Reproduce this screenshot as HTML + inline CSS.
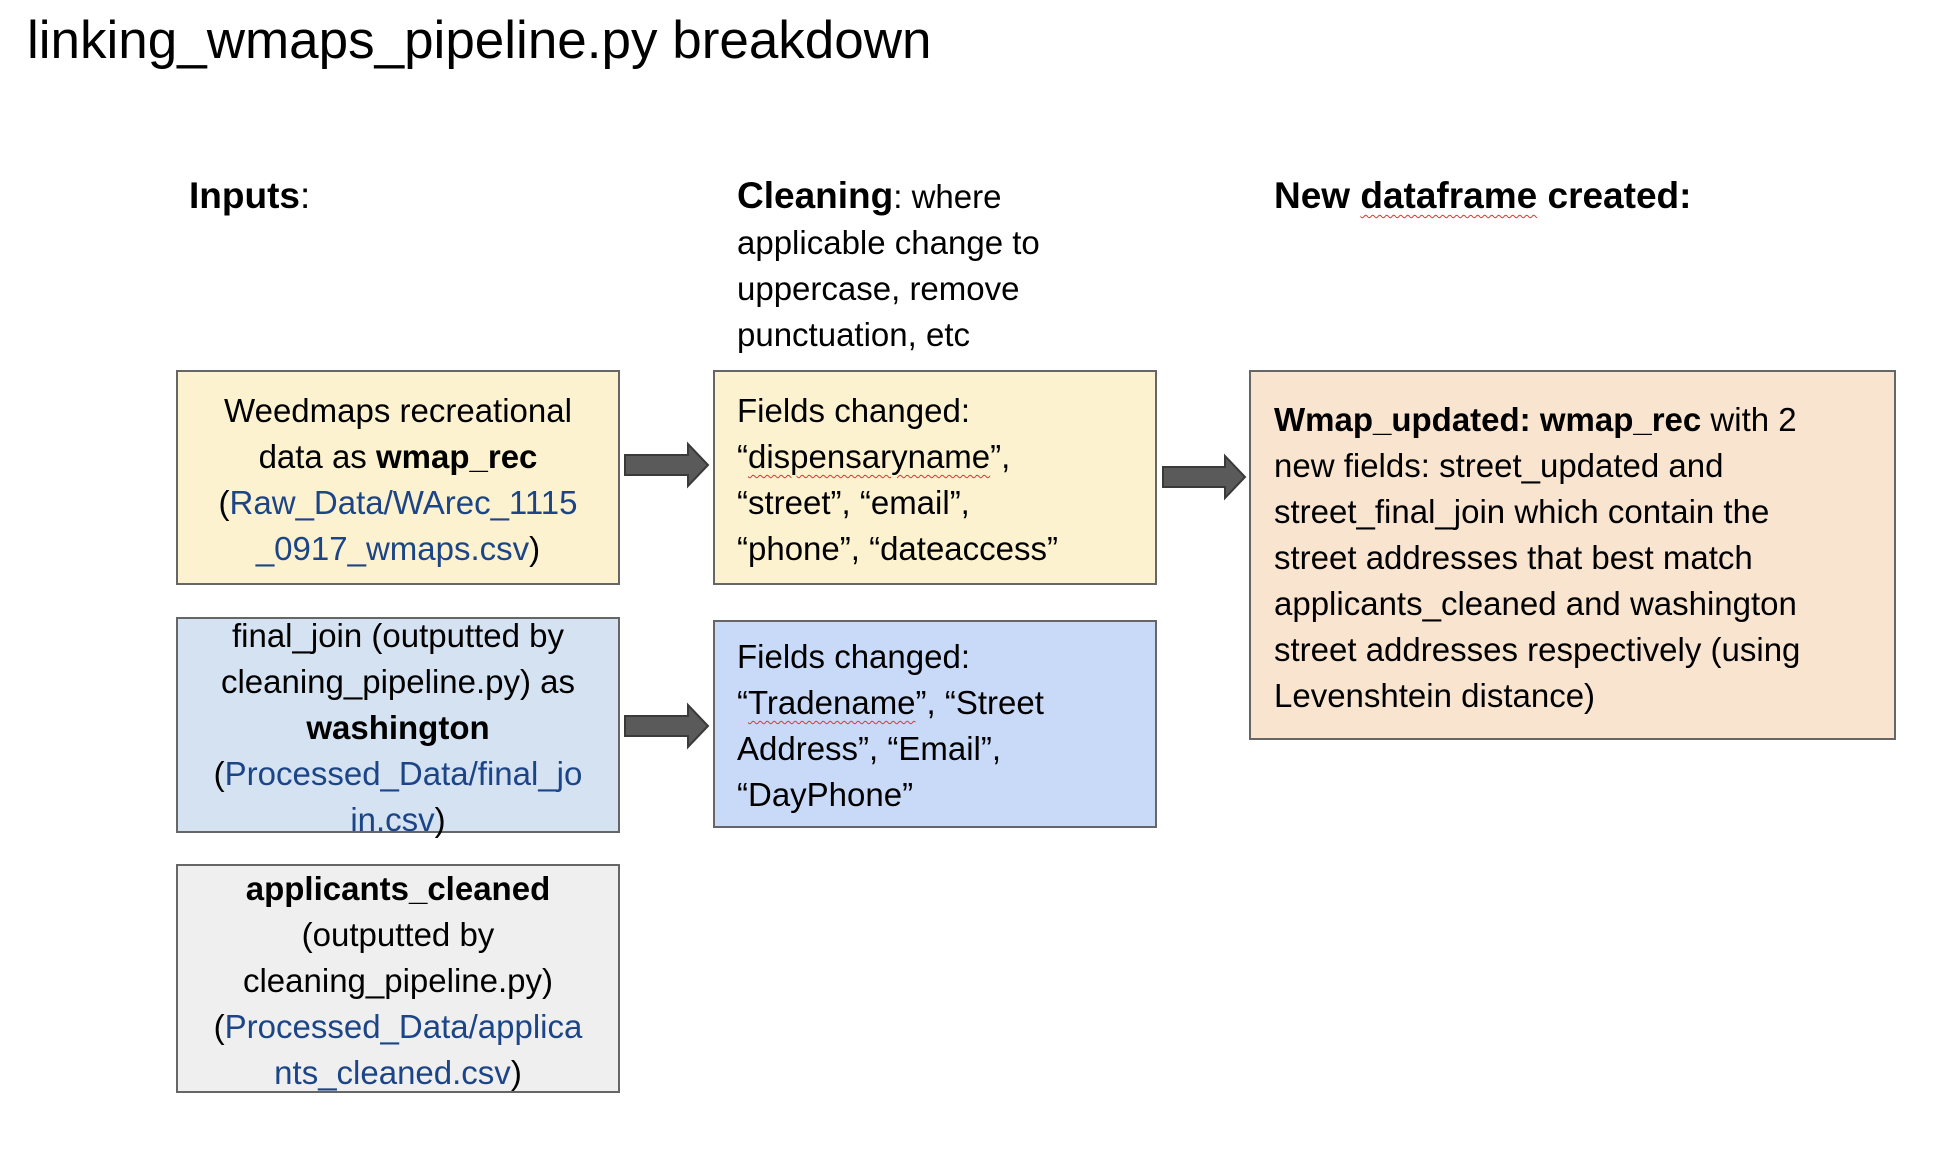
<!DOCTYPE html>
<html><head><meta charset="utf-8"><style>
body{margin:0;width:1936px;height:1162px;background:#fff;position:relative;overflow:hidden;font-family:"Liberation Sans",Arial,sans-serif;color:#000}
.t{position:absolute;font-size:33px;line-height:46px;white-space:nowrap}
.box{position:absolute;border:2px solid #666;box-sizing:border-box}
.c{text-align:center}
.l{color:#1c4587}
.sq{text-decoration:underline wavy #d33;text-decoration-thickness:1px;text-underline-offset:6px}
b{font-weight:bold}
</style></head><body>
<div style="position:absolute;left:27px;top:11px;font-size:53px;line-height:60px;white-space:nowrap">linking_wmaps_pipeline.py breakdown</div>

<div class="t" style="left:189px;top:173px;font-size:37px"><b>Inputs</b>:</div>
<div class="t" style="left:737px;top:173px"><b style="font-size:37px">Cleaning</b>: where<br>applicable change to<br>uppercase, remove<br>punctuation, etc</div>
<div class="t" style="left:1274px;top:173px;font-size:37px"><b>New <span class="sq">dataframe</span> created:</b></div>

<div class="box" style="left:176px;top:370px;width:444px;height:215px;background:#fdf2d0"></div>
<div class="t c" style="left:176px;width:444px;top:388px">Weedmaps recreational<br>data as <b>wmap_rec</b><br>(<span class="l">Raw_Data/WArec_1115</span><br><span class="l">_0917_wmaps.csv</span>)</div>

<div class="box" style="left:176px;top:617px;width:444px;height:216px;background:#d5e2f1"></div>
<div class="t c" style="left:176px;width:444px;top:613px">final_join (outputted by<br>cleaning_pipeline.py) as<br><b>washington</b><br>(<span class="l">Processed_Data/final_jo</span><br><span class="l">in.csv</span>)</div>

<div class="box" style="left:176px;top:864px;width:444px;height:229px;background:#efefef"></div>
<div class="t c" style="left:176px;width:444px;top:866px"><b>applicants_cleaned</b><br>(outputted by<br>cleaning_pipeline.py)<br>(<span class="l">Processed_Data/applica</span><br><span class="l">nts_cleaned.csv</span>)</div>

<div class="box" style="left:713px;top:370px;width:444px;height:215px;background:#fdf2d0"></div>
<div class="t" style="left:737px;top:388px">Fields changed:<br>“<span class="sq">dispensaryname</span>”,<br>“street”, “email”,<br>“phone”, “dateaccess”</div>

<div class="box" style="left:713px;top:620px;width:444px;height:208px;background:#c9daf8"></div>
<div class="t" style="left:737px;top:634px">Fields changed:<br>“<span class="sq">Tradename</span>”, “Street<br>Address”, “Email”,<br>“DayPhone”</div>

<div class="box" style="left:1249px;top:370px;width:647px;height:370px;background:#f8e4cf"></div>
<div class="t" style="left:1274px;top:397px"><b>Wmap_updated: wmap_rec</b> with 2<br>new fields: street_updated and<br>street_final_join which contain the<br>street addresses that best match<br>applicants_cleaned and washington<br>street addresses respectively (using<br>Levenshtein distance)</div>

<svg width="1936" height="1162" style="position:absolute;left:0;top:0">
<g fill="#5a5a5a" stroke="#3a3a3a" stroke-width="2">
<polygon points="625,455 688,455 688,444 708,465 688,486 688,475 625,475"/>
<polygon points="625,716 688,716 688,705 708,726 688,747 688,736 625,736"/>
<polygon points="1163,467 1225,467 1225,456 1245,477 1225,498 1225,487 1163,487"/>
</g></svg>
</body></html>
